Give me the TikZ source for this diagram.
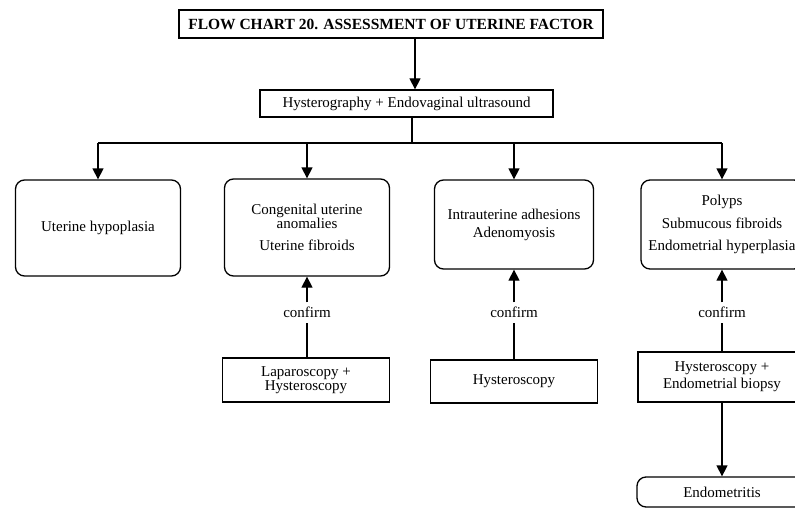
\documentclass[tikz,border=0pt]{standalone}
\usepackage{fontspec}
\setmainfont{Liberation Serif}
\usetikzlibrary{arrows.meta}
\begin{document}
\begin{tikzpicture}[x=1pt,y=-1pt,
  every node/.style={font=\fontsize{15}{13}\selectfont, align=center, inner sep=0pt},
  plainbox/.style={draw, line width=1.3pt, minimum width=#1},
  roundbox/.style={draw, line width=1.3pt, rounded corners=9pt, minimum width=#1},
  link/.style={line width=1.3pt},
  arr/.style={line width=1.3pt, -{Triangle[width=11pt,length=11pt]}}]
\useasboundingbox (0,0) rectangle (795,508);
\clip (0,0) rectangle (795,508);

% header and first test
\node[plainbox=424, minimum height=28, font=\bfseries\fontsize{15.5}{17}\selectfont] (title) at (391,24)
  {FLOW CHART 20. ASSESSMENT OF UTERINE FACTOR};
\node[plainbox=293, minimum height=27] (hyst) at (406.5,103.5) {Hysterography + Endovaginal ultrasound};

% findings
\node[roundbox=165, minimum height=96] (b1) at (98,228) {Uterine hypoplasia};
\node[roundbox=165, minimum height=97] (b2) at (307,227.5)
  {Congenital uterine\\anomalies\\[9pt]Uterine fibroids};
\node[roundbox=159, minimum height=89] (b3) at (514,224.5)
  {Intrauterine adhesions\\[5pt]Adenomyosis};
\node[roundbox=162, minimum height=89] (b4) at (722,224.5)
  {Polyps\\[9pt]Submucous fibroids\\[9pt]Endometrial hyperplasia};

% confirmation procedures
\node[plainbox=167, minimum height=44] (l2) at (306,380) {Laparoscopy +\\Hysteroscopy};
\node[plainbox=167, minimum height=43] (l3) at (514,381.5) {Hysteroscopy};
\node[plainbox=168, minimum height=50] (l4) at (722,377) {Hysteroscopy +\\[2pt]Endometrial biopsy};
\node[roundbox=170, minimum height=30] (endo) at (722,492) {Endometritis};

% "confirm" labels
\node (c2) at (307,312) {confirm};
\node (c3) at (514,312) {confirm};
\node (c4) at (722,312) {confirm};

% connectors
\coordinate (bus) at (412,143);
\draw[arr] (title.south -| 415,0) -- (hyst.north -| 415,0);
\draw[link] (hyst.south -| bus) -- (bus);
\draw[link] (bus -| b1.north) -- (bus -| b4.north);
\foreach \b in {b1,b2,b3,b4} \draw[arr] (bus -| \b.north) -- (\b.north);

\foreach \c/\b/\l in {c2/b2/l2, c3/b3/l3, c4/b4/l4} {
  \draw[arr] ([yshift=4pt]\c.north) -- (\b.south -| \c.north);
  \draw[link] (\l.north -| \c.south) -- ([yshift=-5pt]\c.south);
}
\draw[arr] (l4.south) -- (endo.north);
\end{tikzpicture}
\end{document}
